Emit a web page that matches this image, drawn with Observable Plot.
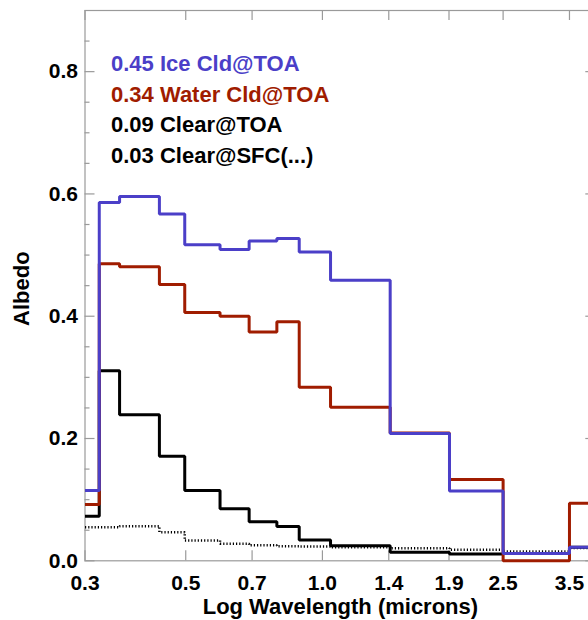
<!DOCTYPE html>
<html>
<head>
<meta charset="utf-8">
<script src="https://cdn.jsdelivr.net/npm/d3@7"></script>
<script src="https://cdn.jsdelivr.net/npm/@observablehq/plot@0.6"></script>
<style>
  html, body { margin: 0; padding: 0; overflow: hidden; background: #fff; }
  svg { max-width: none !important; }
</style>
</head>
<body>
<div id="chart"></div>
<script>
// Band edges (microns)
const edges = [0.3, 0.3225, 0.3575, 0.4375, 0.4975, 0.595, 0.6896, 0.7937, 0.889, 1.042, 1.41, 1.9048, 2.5, 3.5, 4.0];
// Albedo per band
const iceCldToa   = [0.115, 0.586, 0.596, 0.567, 0.517, 0.509, 0.523, 0.527, 0.505, 0.459, 0.208, 0.114, 0.012, 0.022];
const waterCldToa = [0.092, 0.486, 0.481, 0.452, 0.406, 0.400, 0.374, 0.391, 0.284, 0.251, 0.209, 0.133, 0.000, 0.094];
const clearToa    = [0.073, 0.311, 0.239, 0.171, 0.115, 0.085, 0.064, 0.056, 0.034, 0.0245, 0.014, 0.011, 0.012, 0.022];
const clearSfc    = [0.055, 0.055, 0.0566, 0.0468, 0.0332, 0.0278, 0.0255, 0.024, 0.0234, 0.0222, 0.0206, 0.018, 0.0152, 0.021];

const legendLabels = ["0.45 Ice Cld@TOA", "0.34 Water Cld@TOA", "0.09 Clear@TOA", "0.03 Clear@SFC(...)"];
const xTicks = [0.3, 0.5, 0.7, 1.0, 1.4, 1.9, 2.5, 3.5];
const yMajor = [0.0, 0.2, 0.4, 0.6, 0.8];
const yMinor = [0.05, 0.1, 0.15, 0.25, 0.3, 0.35, 0.45, 0.5, 0.55, 0.65, 0.7, 0.75, 0.85];

const blue = "#4B3FC8";
const red = "#A01C00";
const gray = "#9a9a9a";

function steps(vals) {
  const pts = vals.map((v, i) => ({x: edges[i], y: v}));
  pts.push({x: edges[edges.length - 1], y: vals[vals.length - 1]});
  return pts;
}

const width = 600, height = 620;
const mL = 84.5, mR = 4.7, mT = 10, mB = 59.7;
const plotW = width - mL - mR, plotH = height - mT - mB;

const lineOpts = {x: "x", y: "y", curve: "step-after", strokeWidth: 3, strokeLinejoin: "miter", strokeLinecap: "butt"};

const chart = Plot.plot({
  width, height,
  marginLeft: mL, marginRight: mR, marginTop: mT, marginBottom: mB,
  style: "max-width:none; font-family:'Liberation Sans', Arial, sans-serif; font-size:21px; font-weight:bold; color:#000; background:#fff;",
  x: {type: "log", domain: [0.3, 4.0]},
  y: {domain: [0, 0.9]},
  marks: [
    Plot.frame({stroke: gray, strokeWidth: 1.2}),
    // inward tick marks
    Plot.ruleX(xTicks, {x: d => d, insetTop: plotH - 10, stroke: gray, strokeWidth: 1.2}),
    Plot.ruleX(xTicks, {x: d => d, insetBottom: plotH - 10, stroke: gray, strokeWidth: 1.2}),
    Plot.ruleY(yMajor, {y: d => d, insetRight: plotW - 10, stroke: gray, strokeWidth: 1.2}),
    Plot.ruleY(yMinor, {y: d => d, insetRight: plotW - 5, stroke: gray, strokeWidth: 1.2}),
    Plot.ruleY(yMajor, {y: d => d, insetLeft: plotW - 10, stroke: gray, strokeWidth: 1.2}),
    Plot.ruleY(yMinor, {y: d => d, insetLeft: plotW - 5, stroke: gray, strokeWidth: 1.2}),
    Plot.axisX({ticks: xTicks, tickSize: 0, tickPadding: 14.5, tickFormat: d => d.toFixed(1), label: null, fontSize: 21, fontWeight: "bold"}),
    Plot.axisY({ticks: yMajor, tickSize: 0, tickPadding: 7, tickFormat: d => d.toFixed(1), label: null, fontSize: 21, fontWeight: "bold"}),
    // series
    Plot.line(steps(clearSfc), {...lineOpts, stroke: "#000", strokeWidth: 2.5, strokeDasharray: "1.2,2"}),
    Plot.line(steps(clearToa), {...lineOpts, stroke: "#000"}),
    Plot.line(steps(waterCldToa), {...lineOpts, stroke: red}),
    Plot.line(steps(iceCldToa), {...lineOpts, stroke: blue}),
    // legend
    ...legendLabels.map((t, i) => Plot.text([t], {
      frameAnchor: "top-left", textAnchor: "start", lineAnchor: "middle",
      dx: 26, dy: 53.5 + i * 30.5, fill: [blue, red, "#000", "#000"][i],
      fontSize: 22, fontWeight: "bold"
    })),
    // axis titles
    Plot.text(["Log Wavelength (microns)"], {frameAnchor: "bottom", textAnchor: "middle", lineAnchor: "middle", dy: 46, fontSize: 22, fontWeight: "bold"}),
    Plot.text(["Albedo"], {frameAnchor: "left", textAnchor: "middle", lineAnchor: "middle", rotate: -90, dx: -63, dy: 3, fontSize: 22, fontWeight: "bold"})
  ]
});
document.getElementById("chart").appendChild(chart);
</script>
</body>
</html>
